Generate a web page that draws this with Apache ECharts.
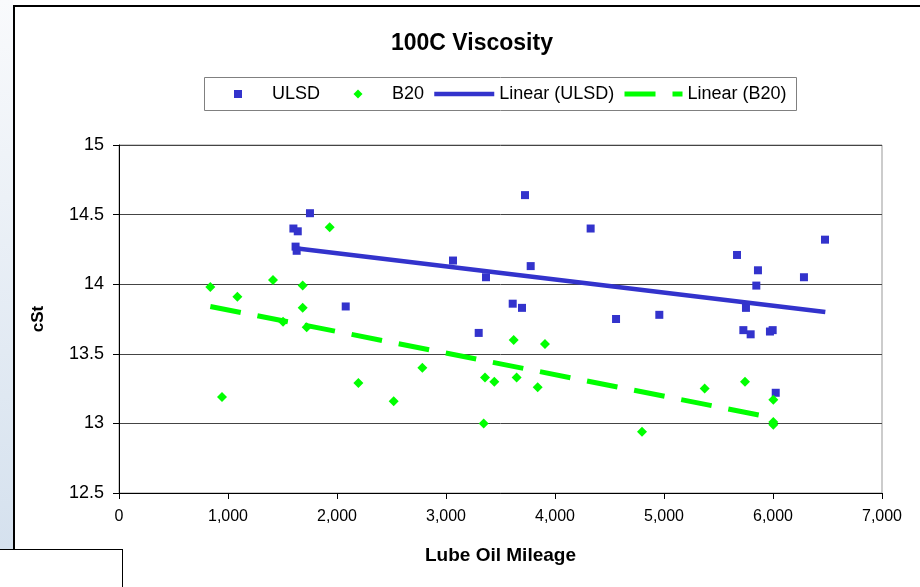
<!DOCTYPE html>
<html>
<head>
<meta charset="utf-8">
<script src="https://cdn.jsdelivr.net/npm/echarts@6/dist/echarts.min.js"></script>
<style>
body{margin:0;background:#fff;}
#wrap{position:relative;width:920px;height:587px;overflow:hidden;}
#strip{position:absolute;left:0;top:0;width:13px;height:549px;background:linear-gradient(#f9fafc,#d5e1ee);}
#frame{position:absolute;left:13px;top:5px;width:920px;height:600px;border-left:2px solid #000;border-top:2px solid #000;}
#cell{position:absolute;left:0;top:549px;width:122px;height:50px;background:#fff;border-top:1px solid #000;border-right:1px solid #000;}
#box{position:absolute;left:0;top:0;width:920px;height:587px;}
</style>
</head>
<body>
<div id="wrap">
	<div id="strip"></div>
	<div id="frame"></div>
	<div id="box"></div>
	<div id="cell"></div>
</div>
<script>
//数据
var ulsdMiles = [1600,1640,1620,1630,1752,2080,3064,3300,3367,3612,3697,3725,3777,4327,4560,4957,5670,5728,5752,5795,5847,5862,5972,5997,6025,6284,6477];
var ulsdCst   = [14.40,14.38,14.27,14.24,14.51,13.84,14.17,13.65,14.05,13.86,13.83,14.64,14.13,14.40,13.75,13.78,14.21,13.67,13.83,13.64,13.99,14.10,13.66,13.67,13.22,14.05,14.32];
var b20Miles  = [838,945,1086,1413,1505,1685,1685,1722,1933,2196,2520,2783,3346,3358,3443,3621,3648,3841,3908,4798,5373,5743,6003,6003,6003];
var b20Cst    = [13.98,13.19,13.91,14.03,13.73,13.99,13.83,13.69,14.41,13.29,13.16,13.40,13.00,13.33,13.30,13.60,13.33,13.26,13.57,12.94,13.25,13.30,13.17,13.01,12.99];
//趋势线两端
var ulsdTrendMiles = [1600,6480];
var ulsdTrendCst   = [14.26,13.80];
var b20TrendMiles  = [838,6003];
var b20TrendCst    = [13.84,13.04];

var font = 'Arial, "Liberation Sans", sans-serif';
var blue = '#3333CC';
var green = '#00FF00';

function pairs(xs,ys){
	var out = [];
	for (var i = 0; i < xs.length; i++) {
		out.push([xs[i],ys[i]]);
	}
	return out;
}

//图例 一个一个放
function legendItem(name,left,w,h,icon,textPad,line){
	var lg = {
		left:left,
		top:84,
		padding:0,
		itemWidth:w,
		itemHeight:h,
		selectedMode:false,
		textStyle:{fontFamily:font,fontSize:18,color:'#000',lineHeight:20,padding:[0,0,0,textPad]},
		data:[{name:name,itemStyle:{opacity:icon ? 1 : 0}}]
	};
	if (icon) {
		lg.data[0].icon = icon;
	}
	if (line) {
		lg.lineStyle = line;
		lg.data[0].lineStyle = line;
	}
	return lg;
}

var option = {
	animation:false,
	title:{
		text:'100C Viscosity',
		left:386,
		top:27,
		textStyle:{fontFamily:font,fontSize:23,fontWeight:'bold',color:'#000'}
	},
	graphic:[{
		type:'rect',
		shape:{x:204.5,y:77.5,width:592,height:33},
		style:{fill:'#fff',stroke:'#808080',lineWidth:1},
		z:-1
	}],
	legend:[
		legendItem('ULSD',234,8,8,'rect',25),
		legendItem('B20',353.5,9,9,'diamond',24.5),
		legendItem('Linear (ULSD)',432,60,9,null,0,{color:blue,width:4.5,type:'solid',opacity:1}),
		legendItem('Linear (B20)',622,58,9,null,0,{color:green,width:5,type:[31,17],opacity:1})
	],
	grid:{
		left:119,
		right:38,
		top:145,
		bottom:94,
		show:true,
		backgroundColor:'#fff',
		borderColor:'#999',
		borderWidth:1
	},
	xAxis:{
		type:'value',
		min:0,
		max:7000,
		interval:1000,
		name:'Lube Oil Mileage',
		nameLocation:'middle',
		nameGap:53,
		nameTextStyle:{fontFamily:font,fontSize:19,fontWeight:'bold',color:'#000'},
		axisLine:{lineStyle:{color:'#000'}},
		axisTick:{show:true,length:6,lineStyle:{color:'#000'}},
		axisLabel:{
			margin:16,
			fontFamily:font,fontSize:16,color:'#000',
			formatter:function (v) { return v.toLocaleString('en-US'); }
		},
		splitLine:{show:false}
	},
	yAxis:{
		type:'value',
		min:12.5,
		max:15,
		interval:0.5,
		name:'cSt',
		nameLocation:'middle',
		nameRotate:90,
		nameGap:72,
		nameTextStyle:{fontFamily:font,fontSize:17,fontWeight:'bold',color:'#000'},
		axisLine:{show:true,lineStyle:{color:'#000'}},
		axisTick:{show:true,length:6,lineStyle:{color:'#000'}},
		axisLabel:{margin:15,fontFamily:font,fontSize:18,color:'#000'},
		splitLine:{show:true,lineStyle:{color:'#444',width:1}}
	},
	series:[
		{
			name:'ULSD',
			type:'scatter',
			symbol:'rect',
			symbolSize:8,
			itemStyle:{color:blue,opacity:1},
			data:pairs(ulsdMiles,ulsdCst)
		},
		{
			name:'B20',
			type:'scatter',
			symbol:'diamond',
			symbolSize:10,
			itemStyle:{color:green,opacity:1},
			data:pairs(b20Miles,b20Cst)
		},
		{
			name:'Linear (ULSD)',
			type:'line',
			symbol:'none',
			itemStyle:{color:blue},
			lineStyle:{color:blue,width:4.5},
			data:pairs(ulsdTrendMiles,ulsdTrendCst)
		},
		{
			name:'Linear (B20)',
			type:'line',
			symbol:'none',
			itemStyle:{color:green},
			lineStyle:{color:green,width:5,type:[31,17]},
			data:pairs(b20TrendMiles,b20TrendCst)
		}
	]
};

var chart = echarts.init(document.getElementById('box'));
chart.setOption(option);
</script>
</body>
</html>
